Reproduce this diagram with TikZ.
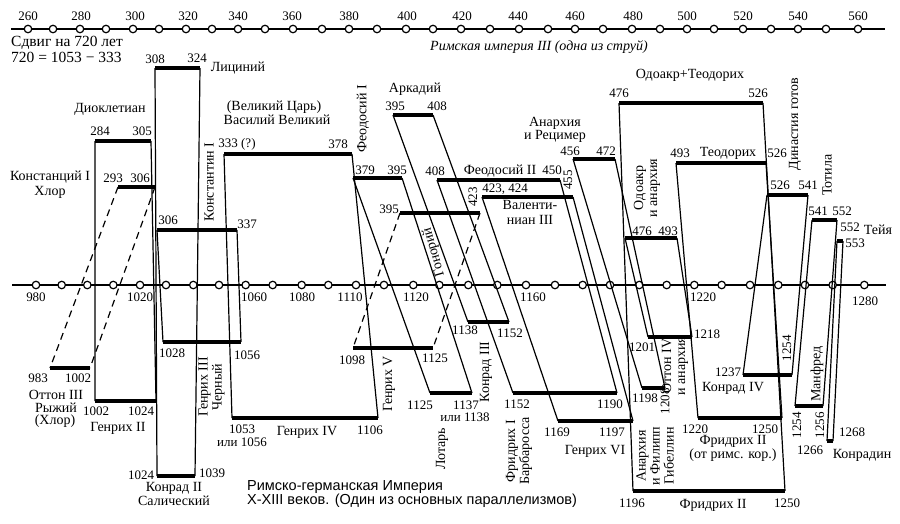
\documentclass[tikz,border=0pt]{standalone}
\usepackage{fontspec}
\setmainfont{Liberation Serif}
\setsansfont{Liberation Sans}
\usetikzlibrary{positioning}
\newcommand{\era}[4]{%
  \coordinate (#1l) at (#2,#4);
  \coordinate (#1r) at (#3,#4);
  \draw[reign] (#1l) -- (#1r);}
\newcommand{\lnk}[3][]{\draw[pline,#1] (#2l) -- (#3l) (#2r) -- (#3r);}

\begin{document}
\begin{tikzpicture}[x=1pt, y=-1pt,
    reign/.style={line width=4.5pt},
    pline/.style={line width=1.2pt},
    gap/.style={dash pattern=on 7pt off 5pt},
    axis/.style={line width=2.6pt},
    tick/.style={draw, circle, fill=white, line width=1.2pt, inner sep=0pt, minimum size=7.5pt},
    num/.style={inner sep=0pt, font=\fontsize{13}{13}\selectfont},
    txt/.style={inner sep=0pt, align=center, font=\fontsize{14}{14}\selectfont}]
  \useasboundingbox (0,0) rectangle (900,523);

  % time axes
  \coordinate (topL) at (11,29);
  \coordinate (topR) at (885,29);
  \coordinate (midL) at (12,285);
  \coordinate (midR) at (886,285);
  \draw[axis] (topL) -- (topR);
  \draw[axis] (midL) -- (midR);
  \foreach \x [count=\i] in {28,53,80,106,133,159,186,212,238,265,293,322,349,377,406,433,461,
      490,519,548,575,603,632,660,687,714,743,771,798,826,858}
    \node[tick] (t\i) at (\x,29) {};
  \foreach \x [count=\i] in {36,61.7,87.3,113.3,140,166,193.3,219,245.7,272.7,301.7,328.3,356,
      384,413.3,439.3,468.3,497.3,526,555,582.7,610,639.3,666.7,694.3,721.7,750,778.3,805,832.7,864.3}
    \node[tick] (m\i) at (\x,285) {};
  \foreach \x/\yr in {28/260,81/280,135/300,188/320,238/340,292/360,349/380,407/400,462/420,
      518/440,575/460,633/480,687/500,743/520,798/540,858/560}
    \node[num] (ty\yr) at (\x,16) {\yr};
  \foreach \x/\yr in {36/980,140/1020,254/1060,302/1080,350/1110,416/1120,533/1160,703/1220}
    \node[num] (my\yr) at (\x,297) {\yr};
  \node[num] (my1280) at (865,301) {1280};

  % Roman empire III
  \era{dio}{95}{151}{141}
  \era{con}{118}{155}{187}
  \era{lic}{155}{200}{68}
  \era{kon}{157}{237}{230}
  \era{vas}{224}{352}{154}
  \era{feo}{353}{402}{178}
  \era{gon}{400}{480}{213}
  \era{ark}{393}{433}{115}
  \era{fet}{437}{560}{180}
  \era{val}{482}{573}{197}
  \era{ric}{573}{615}{159}
  \era{odt}{619}{763}{103}
  \era{oda}{625}{677}{238}
  \era{teo}{676}{766}{163}
  \era{got}{767}{808}{195}
  \era{tot}{812}{837}{220}
  \era{tei}{837}{843}{241}

  % German empire X-XIII
  \era{hen}{95}{156}{401}
  \era{ott}{50}{90}{368}
  \era{kdr}{157}{195}{476}
  \era{hdr}{163}{241}{342}
  \era{hvi}{232}{378}{418}
  \era{lot}{430}{472}{393}
  \era{hfi}{353}{433}{348}
  \era{kth}{468}{509}{322}
  \era{fbr}{513}{617}{393}
  \era{hsi}{558}{633}{421}
  \era{fil}{642}{665}{388}
  \era{fdr}{633}{785}{491}
  \era{otf}{648}{692}{337}
  \era{frk}{698}{782}{418}
  \era{kfo}{743}{792}{375}
  \era{man}{795}{823}{406}
  \era{kdn}{827}{833}{441}

  % parallels
  \lnk{dio}{hen}
  \lnk[gap]{con}{ott}
  \lnk{lic}{kdr}
  \lnk{kon}{hdr}
  \lnk{vas}{hvi}
  \lnk{feo}{lot}
  \lnk[gap]{gon}{hfi}
  \lnk{ark}{kth}
  \lnk{fet}{fbr}
  \lnk{val}{hsi}
  \lnk{ric}{fil}
  \lnk{odt}{fdr}
  \lnk{oda}{otf}
  \lnk{teo}{frk}
  \lnk{got}{kfo}
  \lnk{tot}{man}
  \lnk{tei}{kdn}

  % upper labels
  \node[txt, anchor=west, font=\fontsize{15.5}{15.5}\selectfont] (shift) at (11,43) {Сдвиг на 720 лет};
  \node[txt, anchor=west, font=\fontsize{15.5}{15.5}\selectfont] (shiftEq) at (11,57) {720 = 1053 − 333};
  \node[txt, font=\fontsize{14}{14}\selectfont\itshape] (rome) at (539,47) {Римская империя III (одна из струй)};
  \node[txt] (nDio) at (110,109) {Диоклетиан};
  \node[num] (dio1) at (100,131) {284};
  \node[num] (dio2) at (142,131) {305};
  \node[num] (lic1) at (155,59) {308};
  \node[num] (lic2) at (197,58) {324};
  \node[txt] (nLic) at (238,68) {Лициний};
  \node[txt] (nCon) at (50,177) {Констанций I};
  \node[txt] (nCon2) at (50,192) {Хлор};
  \node[num] (con1) at (113,178) {293};
  \node[num] (con2) at (140,178) {306};
  \node[num] (kon1) at (168,220) {306};
  \node[num] (kon2) at (247,224) {337};
  \node[txt, rotate=90] (nKon) at (209,182) {Константин I};
  \node[txt] (nVas) at (274,107) {(Великий Царь)};
  \node[txt] (nVas2) at (277,120) {Василий Великий};
  \node[num] (vas1) at (237,144) {333 (?)};
  \node[num] (vas2) at (338,144) {378};
  \node[txt, rotate=90] (nFeo) at (363,119) {Феодосий I};
  \node[num] (feo1) at (365,170) {379};
  \node[num] (feo2) at (397,170) {395};
  \node[txt] (nArk) at (415,89) {Аркадий};
  \node[num] (ark1) at (395,106) {395};
  \node[num] (ark2) at (437,106) {408};
  \node[num] (fet1) at (435,171) {408};
  \node[txt] (nFet) at (500,171) {Феодосий II};
  \node[num] (fet2) at (552,170) {450};
  \node[num] (gon1) at (389,209) {395};
  \node[num, rotate=90] (gon2) at (473,197) {423};
  \node[txt, rotate=106] (nGon) at (434,252) {Гонорий};
  \node[num] (val1) at (505,189) {423, 424};
  \node[num, rotate=90] (val2) at (568,180) {455};
  \node[txt] (nVal) at (530,205) {Валенти-};
  \node[txt] (nVal2) at (530,220) {ниан III};
  \node[txt] (nRic) at (555,123) {Анархия};
  \node[txt] (nRic2) at (555,136) {и Рецимер};
  \node[num] (ric1) at (570,151) {456};
  \node[num] (ric2) at (606,151) {472};
  \node[txt] (nOdt) at (690,75) {Одоакр+Теодорих};
  \node[num] (odt1) at (619,93) {476};
  \node[num] (odt2) at (758,93) {526};
  \node[num] (teo1) at (680,153) {493};
  \node[txt] (nTeo) at (728,153) {Теодорих};
  \node[num] (teo2) at (777,153) {526};
  \node[txt, rotate=90] (nOda) at (647,188) {Одоакр\\и анархия};
  \node[num] (oda1) at (642,231) {476};
  \node[num] (oda2) at (668,231) {493};
  \node[txt, rotate=90] (nGot) at (795,124) {Династия готов};
  \node[num] (got1) at (780,185) {526};
  \node[num] (got2) at (808,185) {541};
  \node[txt, rotate=90] (nTot) at (827,175) {Тотила};
  \node[num] (tot1) at (818,211) {541};
  \node[num] (tot2) at (842,211) {552};
  \node[num] (tei1) at (850,227) {552};
  \node[txt] (nTei) at (878,230) {Тейя};
  \node[num] (tei2) at (855,243) {553};

  % lower labels
  \node[num] (hdr1) at (172,353) {1028};
  \node[num] (hdr2) at (247,355) {1056};
  \node[txt, rotate=90] (nHdr) at (211.5,387) {Генрих III\\Черный};
  \node[num] (ott1) at (38,378) {983};
  \node[num] (ott2) at (78,378) {1002};
  \node[txt] (nOtt) at (56,395) {Оттон III};
  \node[txt] (nOtt2) at (56,408) {Рыжий};
  \node[txt] (nOtt3) at (55,421) {(Хлор)};
  \node[num] (hen1) at (96,411) {1002};
  \node[num] (hen2) at (141,411) {1024};
  \node[txt] (nHen) at (118,428) {Генрих II};
  \node[num] (kdr1) at (141,475) {1024};
  \node[num] (kdr2) at (212,473) {1039};
  \node[txt] (nKdr) at (174,488) {Конрад II};
  \node[txt] (nKdr2) at (174,501) {Салический};
  \node[num] (hvi1) at (242,429) {1053};
  \node[num] (hvi1b) at (242,442) {или 1056};
  \node[txt] (nHvi) at (307,432) {Генрих IV};
  \node[num] (hvi2) at (370,430) {1106};
  \node[num] (hfi1) at (352,360) {1098};
  \node[num] (hfi2) at (435,358) {1125};
  \node[txt, rotate=90] (nHfi) at (389,384) {Генрих V};
  \node[num] (lot1) at (420,405) {1125};
  \node[num] (lot2) at (466,405) {1137};
  \node[num] (lot2b) at (465,417) {или 1138};
  \node[txt, rotate=90] (nLot) at (442,449) {Лотарь};
  \node[num] (kth1) at (465,330) {1138};
  \node[num] (kth2) at (510,333) {1152};
  \node[txt, rotate=90] (nKth) at (486,372) {Конрад III};
  \node[num] (fbr1) at (517,404) {1152};
  \node[num] (fbr2) at (610,404) {1190};
  \node[txt, rotate=90] (nFbr) at (519,451) {Фридрих I\\Барбаросса};
  \node[num] (hsi1) at (557,432) {1169};
  \node[num] (hsi2) at (612,432) {1197};
  \node[txt] (nHsi) at (595,451) {Генрих VI};
  \node[num] (fil1) at (645,398) {1198};
  \node[num, rotate=90] (fil2) at (665,401) {1208};
  \node[txt, rotate=90] (nFil) at (655,456) {Анархия\\и Филипп\\Гибеллин};
  \node[num] (otf1) at (642,347) {1201};
  \node[num] (otf2) at (707,334) {1218};
  \node[txt, rotate=90] (nOtf) at (675,366) {Оттон IV\\и анархия};
  \node[num] (fdr1) at (632,503) {1196};
  \node[txt] (nFdr) at (713,505) {Фридрих II};
  \node[num] (fdr2) at (787,503) {1250};
  \node[num] (frk1) at (695,429) {1220};
  \node[num] (frk2) at (765,429) {1250};
  \node[txt] (nFrk) at (733,441) {Фридрих II};
  \node[txt] (nFrk2) at (733,455) {(от римс. кор.)};
  \node[num] (kfo1) at (728,372) {1237};
  \node[num, rotate=90] (kfo2) at (787,348) {1254};
  \node[txt] (nKfo) at (733,388) {Конрад IV};
  \node[num, rotate=90] (man1) at (797,425) {1254};
  \node[num, rotate=90] (man2) at (820,425) {1256};
  \node[txt, rotate=90] (nMan) at (817,374) {Манфред};
  \node[num] (kdn1) at (810,450) {1266};
  \node[num] (kdn2) at (852,432) {1268};
  \node[txt] (nKdn) at (862,455) {Конрадин};

  % caption
  \node[anchor=west, inner sep=0pt, font=\sffamily\fontsize{14.5}{15}\selectfont] (cap) at (247,487) {Римско-германская Империя};
  \node[anchor=west, inner sep=0pt, font=\sffamily\fontsize{14.5}{15}\selectfont] (cap2) at (247,501) {X-XIII веков. (Один из основных параллелизмов)};
\end{tikzpicture}
\end{document}
